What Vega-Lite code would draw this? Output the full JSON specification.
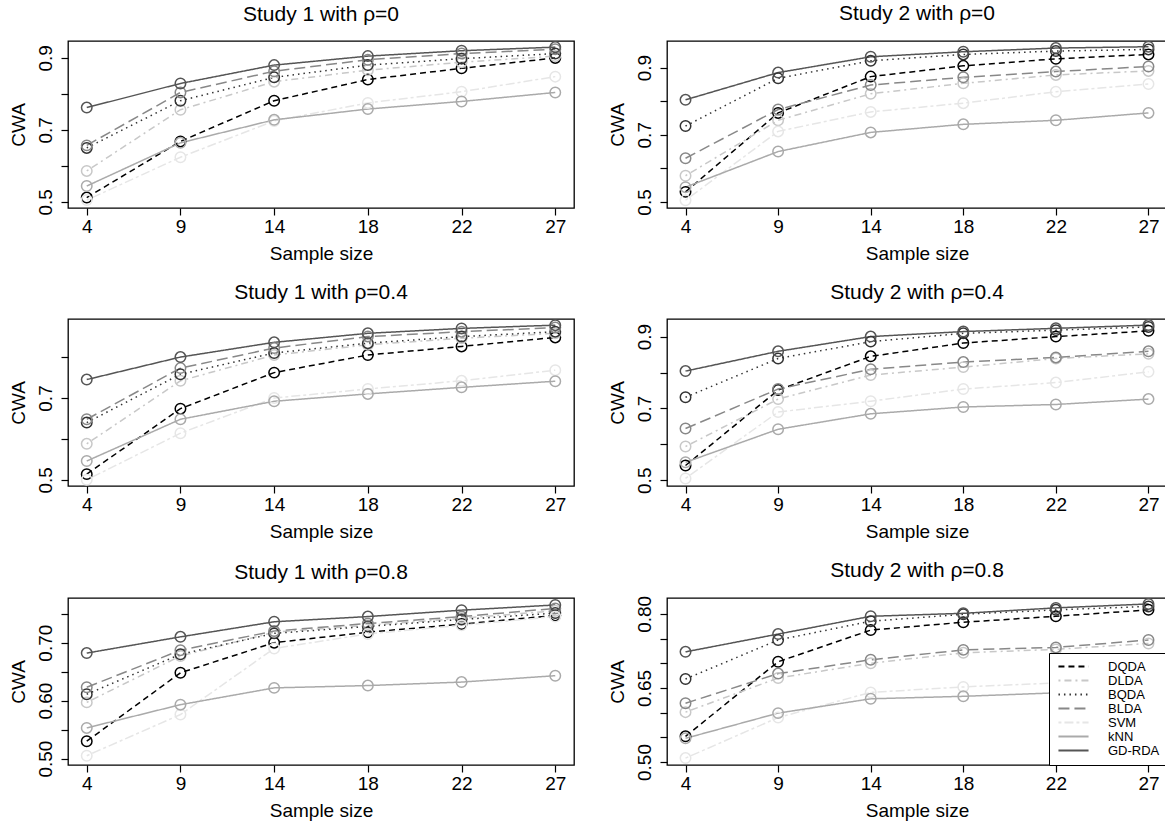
{
  "$schema": "https://vega.github.io/schema/vega-lite/v6.json",
  "background": "white",
  "padding": {"left": 8, "top": 2, "right": 0, "bottom": 0},
  "datasets": {
    "cwa": [
      {"panel": "s1r0", "method": "DQDA", "n": 4, "cwa": 0.512}, {"panel": "s1r0", "method": "DQDA", "n": 9, "cwa": 0.668}, {"panel": "s1r0", "method": "DQDA", "n": 14, "cwa": 0.781}, {"panel": "s1r0", "method": "DQDA", "n": 18, "cwa": 0.840}, {"panel": "s1r0", "method": "DQDA", "n": 22, "cwa": 0.871}, {"panel": "s1r0", "method": "DQDA", "n": 27, "cwa": 0.900},
      {"panel": "s1r0", "method": "DLDA", "n": 4, "cwa": 0.586}, {"panel": "s1r0", "method": "DLDA", "n": 9, "cwa": 0.756}, {"panel": "s1r0", "method": "DLDA", "n": 14, "cwa": 0.834}, {"panel": "s1r0", "method": "DLDA", "n": 18, "cwa": 0.866}, {"panel": "s1r0", "method": "DLDA", "n": 22, "cwa": 0.888}, {"panel": "s1r0", "method": "DLDA", "n": 27, "cwa": 0.905},
      {"panel": "s1r0", "method": "BQDA", "n": 4, "cwa": 0.650}, {"panel": "s1r0", "method": "BQDA", "n": 9, "cwa": 0.781}, {"panel": "s1r0", "method": "BQDA", "n": 14, "cwa": 0.846}, {"panel": "s1r0", "method": "BQDA", "n": 18, "cwa": 0.880}, {"panel": "s1r0", "method": "BQDA", "n": 22, "cwa": 0.898}, {"panel": "s1r0", "method": "BQDA", "n": 27, "cwa": 0.912},
      {"panel": "s1r0", "method": "BLDA", "n": 4, "cwa": 0.657}, {"panel": "s1r0", "method": "BLDA", "n": 9, "cwa": 0.804}, {"panel": "s1r0", "method": "BLDA", "n": 14, "cwa": 0.863}, {"panel": "s1r0", "method": "BLDA", "n": 18, "cwa": 0.895}, {"panel": "s1r0", "method": "BLDA", "n": 22, "cwa": 0.912}, {"panel": "s1r0", "method": "BLDA", "n": 27, "cwa": 0.924},
      {"panel": "s1r0", "method": "SVM", "n": 4, "cwa": 0.505}, {"panel": "s1r0", "method": "SVM", "n": 9, "cwa": 0.624}, {"panel": "s1r0", "method": "SVM", "n": 14, "cwa": 0.725}, {"panel": "s1r0", "method": "SVM", "n": 18, "cwa": 0.775}, {"panel": "s1r0", "method": "SVM", "n": 22, "cwa": 0.806}, {"panel": "s1r0", "method": "SVM", "n": 27, "cwa": 0.848},
      {"panel": "s1r0", "method": "kNN", "n": 4, "cwa": 0.544}, {"panel": "s1r0", "method": "kNN", "n": 9, "cwa": 0.664}, {"panel": "s1r0", "method": "kNN", "n": 14, "cwa": 0.728}, {"panel": "s1r0", "method": "kNN", "n": 18, "cwa": 0.758}, {"panel": "s1r0", "method": "kNN", "n": 22, "cwa": 0.779}, {"panel": "s1r0", "method": "kNN", "n": 27, "cwa": 0.804},
      {"panel": "s1r0", "method": "GD-RDA", "n": 4, "cwa": 0.762}, {"panel": "s1r0", "method": "GD-RDA", "n": 9, "cwa": 0.829}, {"panel": "s1r0", "method": "GD-RDA", "n": 14, "cwa": 0.880}, {"panel": "s1r0", "method": "GD-RDA", "n": 18, "cwa": 0.905}, {"panel": "s1r0", "method": "GD-RDA", "n": 22, "cwa": 0.920}, {"panel": "s1r0", "method": "GD-RDA", "n": 27, "cwa": 0.930},

      {"panel": "s2r0", "method": "DQDA", "n": 4, "cwa": 0.530}, {"panel": "s2r0", "method": "DQDA", "n": 9, "cwa": 0.765}, {"panel": "s2r0", "method": "DQDA", "n": 14, "cwa": 0.873}, {"panel": "s2r0", "method": "DQDA", "n": 18, "cwa": 0.905}, {"panel": "s2r0", "method": "DQDA", "n": 22, "cwa": 0.926}, {"panel": "s2r0", "method": "DQDA", "n": 27, "cwa": 0.939},
      {"panel": "s2r0", "method": "DLDA", "n": 4, "cwa": 0.578}, {"panel": "s2r0", "method": "DLDA", "n": 9, "cwa": 0.743}, {"panel": "s2r0", "method": "DLDA", "n": 14, "cwa": 0.822}, {"panel": "s2r0", "method": "DLDA", "n": 18, "cwa": 0.853}, {"panel": "s2r0", "method": "DLDA", "n": 22, "cwa": 0.878}, {"panel": "s2r0", "method": "DLDA", "n": 27, "cwa": 0.890},
      {"panel": "s2r0", "method": "BQDA", "n": 4, "cwa": 0.726}, {"panel": "s2r0", "method": "BQDA", "n": 9, "cwa": 0.868}, {"panel": "s2r0", "method": "BQDA", "n": 14, "cwa": 0.920}, {"panel": "s2r0", "method": "BQDA", "n": 18, "cwa": 0.939}, {"panel": "s2r0", "method": "BQDA", "n": 22, "cwa": 0.949}, {"panel": "s2r0", "method": "BQDA", "n": 27, "cwa": 0.954},
      {"panel": "s2r0", "method": "BLDA", "n": 4, "cwa": 0.630}, {"panel": "s2r0", "method": "BLDA", "n": 9, "cwa": 0.775}, {"panel": "s2r0", "method": "BLDA", "n": 14, "cwa": 0.848}, {"panel": "s2r0", "method": "BLDA", "n": 18, "cwa": 0.871}, {"panel": "s2r0", "method": "BLDA", "n": 22, "cwa": 0.888}, {"panel": "s2r0", "method": "BLDA", "n": 27, "cwa": 0.903},
      {"panel": "s2r0", "method": "SVM", "n": 4, "cwa": 0.505}, {"panel": "s2r0", "method": "SVM", "n": 9, "cwa": 0.710}, {"panel": "s2r0", "method": "SVM", "n": 14, "cwa": 0.768}, {"panel": "s2r0", "method": "SVM", "n": 18, "cwa": 0.794}, {"panel": "s2r0", "method": "SVM", "n": 22, "cwa": 0.828}, {"panel": "s2r0", "method": "SVM", "n": 27, "cwa": 0.851},
      {"panel": "s2r0", "method": "kNN", "n": 4, "cwa": 0.544}, {"panel": "s2r0", "method": "kNN", "n": 9, "cwa": 0.650}, {"panel": "s2r0", "method": "kNN", "n": 14, "cwa": 0.707}, {"panel": "s2r0", "method": "kNN", "n": 18, "cwa": 0.731}, {"panel": "s2r0", "method": "kNN", "n": 22, "cwa": 0.743}, {"panel": "s2r0", "method": "kNN", "n": 27, "cwa": 0.765},
      {"panel": "s2r0", "method": "GD-RDA", "n": 4, "cwa": 0.804}, {"panel": "s2r0", "method": "GD-RDA", "n": 9, "cwa": 0.885}, {"panel": "s2r0", "method": "GD-RDA", "n": 14, "cwa": 0.932}, {"panel": "s2r0", "method": "GD-RDA", "n": 18, "cwa": 0.947}, {"panel": "s2r0", "method": "GD-RDA", "n": 22, "cwa": 0.958}, {"panel": "s2r0", "method": "GD-RDA", "n": 27, "cwa": 0.962},

      {"panel": "s1r4", "method": "DQDA", "n": 4, "cwa": 0.514}, {"panel": "s1r4", "method": "DQDA", "n": 9, "cwa": 0.674}, {"panel": "s1r4", "method": "DQDA", "n": 14, "cwa": 0.762}, {"panel": "s1r4", "method": "DQDA", "n": 18, "cwa": 0.805}, {"panel": "s1r4", "method": "DQDA", "n": 22, "cwa": 0.826}, {"panel": "s1r4", "method": "DQDA", "n": 27, "cwa": 0.848},
      {"panel": "s1r4", "method": "DLDA", "n": 4, "cwa": 0.588}, {"panel": "s1r4", "method": "DLDA", "n": 9, "cwa": 0.742}, {"panel": "s1r4", "method": "DLDA", "n": 14, "cwa": 0.805}, {"panel": "s1r4", "method": "DLDA", "n": 18, "cwa": 0.830}, {"panel": "s1r4", "method": "DLDA", "n": 22, "cwa": 0.846}, {"panel": "s1r4", "method": "DLDA", "n": 27, "cwa": 0.858},
      {"panel": "s1r4", "method": "BQDA", "n": 4, "cwa": 0.640}, {"panel": "s1r4", "method": "BQDA", "n": 9, "cwa": 0.758}, {"panel": "s1r4", "method": "BQDA", "n": 14, "cwa": 0.810}, {"panel": "s1r4", "method": "BQDA", "n": 18, "cwa": 0.834}, {"panel": "s1r4", "method": "BQDA", "n": 22, "cwa": 0.850}, {"panel": "s1r4", "method": "BQDA", "n": 27, "cwa": 0.862},
      {"panel": "s1r4", "method": "BLDA", "n": 4, "cwa": 0.648}, {"panel": "s1r4", "method": "BLDA", "n": 9, "cwa": 0.773}, {"panel": "s1r4", "method": "BLDA", "n": 14, "cwa": 0.822}, {"panel": "s1r4", "method": "BLDA", "n": 18, "cwa": 0.850}, {"panel": "s1r4", "method": "BLDA", "n": 22, "cwa": 0.862}, {"panel": "s1r4", "method": "BLDA", "n": 27, "cwa": 0.872},
      {"panel": "s1r4", "method": "SVM", "n": 4, "cwa": 0.500}, {"panel": "s1r4", "method": "SVM", "n": 9, "cwa": 0.614}, {"panel": "s1r4", "method": "SVM", "n": 14, "cwa": 0.700}, {"panel": "s1r4", "method": "SVM", "n": 18, "cwa": 0.722}, {"panel": "s1r4", "method": "SVM", "n": 22, "cwa": 0.742}, {"panel": "s1r4", "method": "SVM", "n": 27, "cwa": 0.768},
      {"panel": "s1r4", "method": "kNN", "n": 4, "cwa": 0.546}, {"panel": "s1r4", "method": "kNN", "n": 9, "cwa": 0.648}, {"panel": "s1r4", "method": "kNN", "n": 14, "cwa": 0.692}, {"panel": "s1r4", "method": "kNN", "n": 18, "cwa": 0.710}, {"panel": "s1r4", "method": "kNN", "n": 22, "cwa": 0.726}, {"panel": "s1r4", "method": "kNN", "n": 27, "cwa": 0.741},
      {"panel": "s1r4", "method": "GD-RDA", "n": 4, "cwa": 0.745}, {"panel": "s1r4", "method": "GD-RDA", "n": 9, "cwa": 0.800}, {"panel": "s1r4", "method": "GD-RDA", "n": 14, "cwa": 0.836}, {"panel": "s1r4", "method": "GD-RDA", "n": 18, "cwa": 0.858}, {"panel": "s1r4", "method": "GD-RDA", "n": 22, "cwa": 0.870}, {"panel": "s1r4", "method": "GD-RDA", "n": 27, "cwa": 0.878},

      {"panel": "s2r4", "method": "DQDA", "n": 4, "cwa": 0.541}, {"panel": "s2r4", "method": "DQDA", "n": 9, "cwa": 0.751}, {"panel": "s2r4", "method": "DQDA", "n": 14, "cwa": 0.845}, {"panel": "s2r4", "method": "DQDA", "n": 18, "cwa": 0.882}, {"panel": "s2r4", "method": "DQDA", "n": 22, "cwa": 0.900}, {"panel": "s2r4", "method": "DQDA", "n": 27, "cwa": 0.916},
      {"panel": "s2r4", "method": "DLDA", "n": 4, "cwa": 0.594}, {"panel": "s2r4", "method": "DLDA", "n": 9, "cwa": 0.726}, {"panel": "s2r4", "method": "DLDA", "n": 14, "cwa": 0.793}, {"panel": "s2r4", "method": "DLDA", "n": 18, "cwa": 0.815}, {"panel": "s2r4", "method": "DLDA", "n": 22, "cwa": 0.839}, {"panel": "s2r4", "method": "DLDA", "n": 27, "cwa": 0.852},
      {"panel": "s2r4", "method": "BQDA", "n": 4, "cwa": 0.731}, {"panel": "s2r4", "method": "BQDA", "n": 9, "cwa": 0.839}, {"panel": "s2r4", "method": "BQDA", "n": 14, "cwa": 0.886}, {"panel": "s2r4", "method": "BQDA", "n": 18, "cwa": 0.909}, {"panel": "s2r4", "method": "BQDA", "n": 22, "cwa": 0.918}, {"panel": "s2r4", "method": "BQDA", "n": 27, "cwa": 0.927},
      {"panel": "s2r4", "method": "BLDA", "n": 4, "cwa": 0.644}, {"panel": "s2r4", "method": "BLDA", "n": 9, "cwa": 0.754}, {"panel": "s2r4", "method": "BLDA", "n": 14, "cwa": 0.809}, {"panel": "s2r4", "method": "BLDA", "n": 18, "cwa": 0.829}, {"panel": "s2r4", "method": "BLDA", "n": 22, "cwa": 0.842}, {"panel": "s2r4", "method": "BLDA", "n": 27, "cwa": 0.859},
      {"panel": "s2r4", "method": "SVM", "n": 4, "cwa": 0.505}, {"panel": "s2r4", "method": "SVM", "n": 9, "cwa": 0.690}, {"panel": "s2r4", "method": "SVM", "n": 14, "cwa": 0.720}, {"panel": "s2r4", "method": "SVM", "n": 18, "cwa": 0.754}, {"panel": "s2r4", "method": "SVM", "n": 22, "cwa": 0.772}, {"panel": "s2r4", "method": "SVM", "n": 27, "cwa": 0.802},
      {"panel": "s2r4", "method": "kNN", "n": 4, "cwa": 0.550}, {"panel": "s2r4", "method": "kNN", "n": 9, "cwa": 0.642}, {"panel": "s2r4", "method": "kNN", "n": 14, "cwa": 0.685}, {"panel": "s2r4", "method": "kNN", "n": 18, "cwa": 0.704}, {"panel": "s2r4", "method": "kNN", "n": 22, "cwa": 0.711}, {"panel": "s2r4", "method": "kNN", "n": 27, "cwa": 0.726},
      {"panel": "s2r4", "method": "GD-RDA", "n": 4, "cwa": 0.804}, {"panel": "s2r4", "method": "GD-RDA", "n": 9, "cwa": 0.859}, {"panel": "s2r4", "method": "GD-RDA", "n": 14, "cwa": 0.900}, {"panel": "s2r4", "method": "GD-RDA", "n": 18, "cwa": 0.914}, {"panel": "s2r4", "method": "GD-RDA", "n": 22, "cwa": 0.923}, {"panel": "s2r4", "method": "GD-RDA", "n": 27, "cwa": 0.932},

      {"panel": "s1r8", "method": "DQDA", "n": 4, "cwa": 0.530}, {"panel": "s1r8", "method": "DQDA", "n": 9, "cwa": 0.648}, {"panel": "s1r8", "method": "DQDA", "n": 14, "cwa": 0.700}, {"panel": "s1r8", "method": "DQDA", "n": 18, "cwa": 0.718}, {"panel": "s1r8", "method": "DQDA", "n": 22, "cwa": 0.732}, {"panel": "s1r8", "method": "DQDA", "n": 27, "cwa": 0.747},
      {"panel": "s1r8", "method": "DLDA", "n": 4, "cwa": 0.597}, {"panel": "s1r8", "method": "DLDA", "n": 9, "cwa": 0.677}, {"panel": "s1r8", "method": "DLDA", "n": 14, "cwa": 0.718}, {"panel": "s1r8", "method": "DLDA", "n": 18, "cwa": 0.730}, {"panel": "s1r8", "method": "DLDA", "n": 22, "cwa": 0.742}, {"panel": "s1r8", "method": "DLDA", "n": 27, "cwa": 0.755},
      {"panel": "s1r8", "method": "BQDA", "n": 4, "cwa": 0.611}, {"panel": "s1r8", "method": "BQDA", "n": 9, "cwa": 0.680}, {"panel": "s1r8", "method": "BQDA", "n": 14, "cwa": 0.716}, {"panel": "s1r8", "method": "BQDA", "n": 18, "cwa": 0.728}, {"panel": "s1r8", "method": "BQDA", "n": 22, "cwa": 0.740}, {"panel": "s1r8", "method": "BQDA", "n": 27, "cwa": 0.751},
      {"panel": "s1r8", "method": "BLDA", "n": 4, "cwa": 0.623}, {"panel": "s1r8", "method": "BLDA", "n": 9, "cwa": 0.687}, {"panel": "s1r8", "method": "BLDA", "n": 14, "cwa": 0.720}, {"panel": "s1r8", "method": "BLDA", "n": 18, "cwa": 0.733}, {"panel": "s1r8", "method": "BLDA", "n": 22, "cwa": 0.745}, {"panel": "s1r8", "method": "BLDA", "n": 27, "cwa": 0.759},
      {"panel": "s1r8", "method": "SVM", "n": 4, "cwa": 0.505}, {"panel": "s1r8", "method": "SVM", "n": 9, "cwa": 0.576}, {"panel": "s1r8", "method": "SVM", "n": 14, "cwa": 0.690}, {"panel": "s1r8", "method": "SVM", "n": 18, "cwa": 0.715}, {"panel": "s1r8", "method": "SVM", "n": 22, "cwa": 0.730}, {"panel": "s1r8", "method": "SVM", "n": 27, "cwa": 0.745},
      {"panel": "s1r8", "method": "kNN", "n": 4, "cwa": 0.553}, {"panel": "s1r8", "method": "kNN", "n": 9, "cwa": 0.593}, {"panel": "s1r8", "method": "kNN", "n": 14, "cwa": 0.622}, {"panel": "s1r8", "method": "kNN", "n": 18, "cwa": 0.626}, {"panel": "s1r8", "method": "kNN", "n": 22, "cwa": 0.632}, {"panel": "s1r8", "method": "kNN", "n": 27, "cwa": 0.643},
      {"panel": "s1r8", "method": "GD-RDA", "n": 4, "cwa": 0.682}, {"panel": "s1r8", "method": "GD-RDA", "n": 9, "cwa": 0.710}, {"panel": "s1r8", "method": "GD-RDA", "n": 14, "cwa": 0.736}, {"panel": "s1r8", "method": "GD-RDA", "n": 18, "cwa": 0.745}, {"panel": "s1r8", "method": "GD-RDA", "n": 22, "cwa": 0.756}, {"panel": "s1r8", "method": "GD-RDA", "n": 27, "cwa": 0.765},

      {"panel": "s2r8", "method": "DQDA", "n": 4, "cwa": 0.552}, {"panel": "s2r8", "method": "DQDA", "n": 9, "cwa": 0.703}, {"panel": "s2r8", "method": "DQDA", "n": 14, "cwa": 0.767}, {"panel": "s2r8", "method": "DQDA", "n": 18, "cwa": 0.783}, {"panel": "s2r8", "method": "DQDA", "n": 22, "cwa": 0.795}, {"panel": "s2r8", "method": "DQDA", "n": 27, "cwa": 0.808},
      {"panel": "s2r8", "method": "DLDA", "n": 4, "cwa": 0.601}, {"panel": "s2r8", "method": "DLDA", "n": 9, "cwa": 0.670}, {"panel": "s2r8", "method": "DLDA", "n": 14, "cwa": 0.700}, {"panel": "s2r8", "method": "DLDA", "n": 18, "cwa": 0.721}, {"panel": "s2r8", "method": "DLDA", "n": 22, "cwa": 0.728}, {"panel": "s2r8", "method": "DLDA", "n": 27, "cwa": 0.740},
      {"panel": "s2r8", "method": "BQDA", "n": 4, "cwa": 0.668}, {"panel": "s2r8", "method": "BQDA", "n": 9, "cwa": 0.747}, {"panel": "s2r8", "method": "BQDA", "n": 14, "cwa": 0.785}, {"panel": "s2r8", "method": "BQDA", "n": 18, "cwa": 0.799}, {"panel": "s2r8", "method": "BQDA", "n": 22, "cwa": 0.808}, {"panel": "s2r8", "method": "BQDA", "n": 27, "cwa": 0.815},
      {"panel": "s2r8", "method": "BLDA", "n": 4, "cwa": 0.619}, {"panel": "s2r8", "method": "BLDA", "n": 9, "cwa": 0.679}, {"panel": "s2r8", "method": "BLDA", "n": 14, "cwa": 0.707}, {"panel": "s2r8", "method": "BLDA", "n": 18, "cwa": 0.727}, {"panel": "s2r8", "method": "BLDA", "n": 22, "cwa": 0.732}, {"panel": "s2r8", "method": "BLDA", "n": 27, "cwa": 0.747},
      {"panel": "s2r8", "method": "SVM", "n": 4, "cwa": 0.508}, {"panel": "s2r8", "method": "SVM", "n": 9, "cwa": 0.590}, {"panel": "s2r8", "method": "SVM", "n": 14, "cwa": 0.641}, {"panel": "s2r8", "method": "SVM", "n": 18, "cwa": 0.652}, {"panel": "s2r8", "method": "SVM", "n": 22, "cwa": 0.660}, {"panel": "s2r8", "method": "SVM", "n": 27, "cwa": 0.667},
      {"panel": "s2r8", "method": "kNN", "n": 4, "cwa": 0.548}, {"panel": "s2r8", "method": "kNN", "n": 9, "cwa": 0.599}, {"panel": "s2r8", "method": "kNN", "n": 14, "cwa": 0.628}, {"panel": "s2r8", "method": "kNN", "n": 18, "cwa": 0.633}, {"panel": "s2r8", "method": "kNN", "n": 22, "cwa": 0.640}, {"panel": "s2r8", "method": "kNN", "n": 27, "cwa": 0.647},
      {"panel": "s2r8", "method": "GD-RDA", "n": 4, "cwa": 0.723}, {"panel": "s2r8", "method": "GD-RDA", "n": 9, "cwa": 0.759}, {"panel": "s2r8", "method": "GD-RDA", "n": 14, "cwa": 0.795}, {"panel": "s2r8", "method": "GD-RDA", "n": 18, "cwa": 0.801}, {"panel": "s2r8", "method": "GD-RDA", "n": 22, "cwa": 0.812}, {"panel": "s2r8", "method": "GD-RDA", "n": 27, "cwa": 0.820}
    ]
  },
  "columns": 2,
  "spacing": {"row": 17, "column": 32},
  "resolve": {
    "scale": {"x": "independent", "y": "independent"},
    "legend": {"stroke": "independent", "strokeDash": "independent"}
  },
  "concat": [
    {
      "title": "Study 1 with ρ=0",
      "width": 506, "height": 167,
      "data": {"name": "cwa"},
      "transform": [{"filter": "datum.panel == 's1r0'"}],
      "encoding": {
        "x": {"field": "n", "type": "ordinal", "title": "Sample size", "scale": {"type": "point", "domain": [4, 9, 14, 18, 22, 27], "padding": 0.2}, "axis": {"labelAngle": 0}},
        "y": {"field": "cwa", "type": "quantitative", "title": "CWA", "scale": {"domain": [0.483, 0.947], "nice": false, "zero": false}, "axis": {"values": [0.5, 0.6, 0.7, 0.8, 0.9], "labelExpr": "(datum.value == 0.6 || datum.value == 0.8) ? '' : format(datum.value, '.1f')"}}
      },
      "layer": [
        {"mark": {"type": "line", "strokeWidth": 1.5},
         "encoding": {
           "stroke": {"field": "method", "type": "nominal", "legend": null, "scale": {"domain": ["DQDA", "DLDA", "BQDA", "BLDA", "SVM", "kNN", "GD-RDA"], "range": ["#000000", "#c8c8c8", "#333333", "#888888", "#e6e6e6", "#aaaaaa", "#555555"]}},
           "strokeDash": {"field": "method", "type": "nominal", "legend": null, "scale": {"domain": ["DQDA", "DLDA", "BQDA", "BLDA", "SVM", "kNN", "GD-RDA"], "range": [[6, 4], [2, 4, 7, 4], [1.5, 4], [11, 5], [3, 3, 9, 3], [1, 0], [1, 0]]}}
         }},
        {"mark": {"type": "point", "filled": false, "size": 110, "strokeWidth": 1.5, "opacity": 1},
         "encoding": {
           "color": {"field": "method", "type": "nominal", "legend": null, "scale": {"domain": ["DQDA", "DLDA", "BQDA", "BLDA", "SVM", "kNN", "GD-RDA"], "range": ["#000000", "#c8c8c8", "#333333", "#888888", "#e6e6e6", "#aaaaaa", "#555555"]}}
         }}
      ]
    },
    {
      "title": "Study 2 with ρ=0",
      "width": 500, "height": 167,
      "data": {"name": "cwa"},
      "transform": [{"filter": "datum.panel == 's2r0'"}],
      "encoding": {
        "x": {"field": "n", "type": "ordinal", "title": "Sample size", "scale": {"type": "point", "domain": [4, 9, 14, 18, 22, 27], "padding": 0.2}, "axis": {"labelAngle": 0}},
        "y": {"field": "cwa", "type": "quantitative", "title": "CWA", "scale": {"domain": [0.482, 0.979], "nice": false, "zero": false}, "axis": {"values": [0.5, 0.6, 0.7, 0.8, 0.9], "labelExpr": "(datum.value == 0.6 || datum.value == 0.8) ? '' : format(datum.value, '.1f')"}}
      },
      "layer": [
        {"mark": {"type": "line", "strokeWidth": 1.5},
         "encoding": {
           "stroke": {"field": "method", "type": "nominal", "legend": null, "scale": {"domain": ["DQDA", "DLDA", "BQDA", "BLDA", "SVM", "kNN", "GD-RDA"], "range": ["#000000", "#c8c8c8", "#333333", "#888888", "#e6e6e6", "#aaaaaa", "#555555"]}},
           "strokeDash": {"field": "method", "type": "nominal", "legend": null, "scale": {"domain": ["DQDA", "DLDA", "BQDA", "BLDA", "SVM", "kNN", "GD-RDA"], "range": [[6, 4], [2, 4, 7, 4], [1.5, 4], [11, 5], [3, 3, 9, 3], [1, 0], [1, 0]]}}
         }},
        {"mark": {"type": "point", "filled": false, "size": 110, "strokeWidth": 1.5, "opacity": 1},
         "encoding": {
           "color": {"field": "method", "type": "nominal", "legend": null, "scale": {"domain": ["DQDA", "DLDA", "BQDA", "BLDA", "SVM", "kNN", "GD-RDA"], "range": ["#000000", "#c8c8c8", "#333333", "#888888", "#e6e6e6", "#aaaaaa", "#555555"]}}
         }}
      ]
    },
    {
      "title": "Study 1 with ρ=0.4",
      "width": 506, "height": 167,
      "data": {"name": "cwa"},
      "transform": [{"filter": "datum.panel == 's1r4'"}],
      "encoding": {
        "x": {"field": "n", "type": "ordinal", "title": "Sample size", "scale": {"type": "point", "domain": [4, 9, 14, 18, 22, 27], "padding": 0.2}, "axis": {"labelAngle": 0}},
        "y": {"field": "cwa", "type": "quantitative", "title": "CWA", "scale": {"domain": [0.485, 0.893], "nice": false, "zero": false}, "axis": {"values": [0.5, 0.6, 0.7, 0.8], "labelExpr": "(datum.value == 0.6 || datum.value == 0.8) ? '' : format(datum.value, '.1f')"}}
      },
      "layer": [
        {"mark": {"type": "line", "strokeWidth": 1.5},
         "encoding": {
           "stroke": {"field": "method", "type": "nominal", "legend": null, "scale": {"domain": ["DQDA", "DLDA", "BQDA", "BLDA", "SVM", "kNN", "GD-RDA"], "range": ["#000000", "#c8c8c8", "#333333", "#888888", "#e6e6e6", "#aaaaaa", "#555555"]}},
           "strokeDash": {"field": "method", "type": "nominal", "legend": null, "scale": {"domain": ["DQDA", "DLDA", "BQDA", "BLDA", "SVM", "kNN", "GD-RDA"], "range": [[6, 4], [2, 4, 7, 4], [1.5, 4], [11, 5], [3, 3, 9, 3], [1, 0], [1, 0]]}}
         }},
        {"mark": {"type": "point", "filled": false, "size": 110, "strokeWidth": 1.5, "opacity": 1},
         "encoding": {
           "color": {"field": "method", "type": "nominal", "legend": null, "scale": {"domain": ["DQDA", "DLDA", "BQDA", "BLDA", "SVM", "kNN", "GD-RDA"], "range": ["#000000", "#c8c8c8", "#333333", "#888888", "#e6e6e6", "#aaaaaa", "#555555"]}}
         }}
      ]
    },
    {
      "title": "Study 2 with ρ=0.4",
      "width": 500, "height": 167,
      "data": {"name": "cwa"},
      "transform": [{"filter": "datum.panel == 's2r4'"}],
      "encoding": {
        "x": {"field": "n", "type": "ordinal", "title": "Sample size", "scale": {"type": "point", "domain": [4, 9, 14, 18, 22, 27], "padding": 0.2}, "axis": {"labelAngle": 0}},
        "y": {"field": "cwa", "type": "quantitative", "title": "CWA", "scale": {"domain": [0.484, 0.949], "nice": false, "zero": false}, "axis": {"values": [0.5, 0.6, 0.7, 0.8, 0.9], "labelExpr": "(datum.value == 0.6 || datum.value == 0.8) ? '' : format(datum.value, '.1f')"}}
      },
      "layer": [
        {"mark": {"type": "line", "strokeWidth": 1.5},
         "encoding": {
           "stroke": {"field": "method", "type": "nominal", "legend": null, "scale": {"domain": ["DQDA", "DLDA", "BQDA", "BLDA", "SVM", "kNN", "GD-RDA"], "range": ["#000000", "#c8c8c8", "#333333", "#888888", "#e6e6e6", "#aaaaaa", "#555555"]}},
           "strokeDash": {"field": "method", "type": "nominal", "legend": null, "scale": {"domain": ["DQDA", "DLDA", "BQDA", "BLDA", "SVM", "kNN", "GD-RDA"], "range": [[6, 4], [2, 4, 7, 4], [1.5, 4], [11, 5], [3, 3, 9, 3], [1, 0], [1, 0]]}}
         }},
        {"mark": {"type": "point", "filled": false, "size": 110, "strokeWidth": 1.5, "opacity": 1},
         "encoding": {
           "color": {"field": "method", "type": "nominal", "legend": null, "scale": {"domain": ["DQDA", "DLDA", "BQDA", "BLDA", "SVM", "kNN", "GD-RDA"], "range": ["#000000", "#c8c8c8", "#333333", "#888888", "#e6e6e6", "#aaaaaa", "#555555"]}}
         }}
      ]
    },
    {
      "title": "Study 1 with ρ=0.8",
      "width": 506, "height": 167,
      "data": {"name": "cwa"},
      "transform": [{"filter": "datum.panel == 's1r8'"}],
      "encoding": {
        "x": {"field": "n", "type": "ordinal", "title": "Sample size", "scale": {"type": "point", "domain": [4, 9, 14, 18, 22, 27], "padding": 0.2}, "axis": {"labelAngle": 0}},
        "y": {"field": "cwa", "type": "quantitative", "title": "CWA", "scale": {"domain": [0.489, 0.777], "nice": false, "zero": false}, "axis": {"values": [0.5, 0.55, 0.6, 0.65, 0.7, 0.75], "labelExpr": "indexof(['0.50', '0.60', '0.70'], format(datum.value, '.2f')) >= 0 ? format(datum.value, '.2f') : ''"}}
      },
      "layer": [
        {"mark": {"type": "line", "strokeWidth": 1.5},
         "encoding": {
           "stroke": {"field": "method", "type": "nominal", "legend": null, "scale": {"domain": ["DQDA", "DLDA", "BQDA", "BLDA", "SVM", "kNN", "GD-RDA"], "range": ["#000000", "#c8c8c8", "#333333", "#888888", "#e6e6e6", "#aaaaaa", "#555555"]}},
           "strokeDash": {"field": "method", "type": "nominal", "legend": null, "scale": {"domain": ["DQDA", "DLDA", "BQDA", "BLDA", "SVM", "kNN", "GD-RDA"], "range": [[6, 4], [2, 4, 7, 4], [1.5, 4], [11, 5], [3, 3, 9, 3], [1, 0], [1, 0]]}}
         }},
        {"mark": {"type": "point", "filled": false, "size": 110, "strokeWidth": 1.5, "opacity": 1},
         "encoding": {
           "color": {"field": "method", "type": "nominal", "legend": null, "scale": {"domain": ["DQDA", "DLDA", "BQDA", "BLDA", "SVM", "kNN", "GD-RDA"], "range": ["#000000", "#c8c8c8", "#333333", "#888888", "#e6e6e6", "#aaaaaa", "#555555"]}}
         }}
      ]
    },
    {
      "title": "Study 2 with ρ=0.8",
      "width": 500, "height": 167,
      "data": {"name": "cwa"},
      "transform": [{"filter": "datum.panel == 's2r8'"}],
      "encoding": {
        "x": {"field": "n", "type": "ordinal", "title": "Sample size", "scale": {"type": "point", "domain": [4, 9, 14, 18, 22, 27], "padding": 0.2}, "axis": {"labelAngle": 0}},
        "y": {"field": "cwa", "type": "quantitative", "title": "CWA", "scale": {"domain": [0.494, 0.832], "nice": false, "zero": false}, "axis": {"values": [0.5, 0.55, 0.6, 0.65, 0.7, 0.75, 0.8], "labelExpr": "indexof(['0.50', '0.65', '0.80'], format(datum.value, '.2f')) >= 0 ? format(datum.value, '.2f') : ''"}}
      },
      "layer": [
        {"mark": {"type": "line", "strokeWidth": 1.5},
         "encoding": {
           "stroke": {"field": "method", "type": "nominal", "scale": {"domain": ["DQDA", "DLDA", "BQDA", "BLDA", "SVM", "kNN", "GD-RDA"], "range": ["#000000", "#c8c8c8", "#333333", "#888888", "#e6e6e6", "#aaaaaa", "#555555"]},
             "legend": {"title": null, "orient": "bottom-right", "offset": 0, "padding": 7, "strokeColor": "#000000", "fillColor": "#ffffff", "symbolType": "M-4.3,0H4.3", "symbolSize": 49, "symbolStrokeWidth": 2, "symbolOffset": 11, "labelFont": "Liberation Sans", "labelFontSize": 13, "labelColor": "#000000", "rowPadding": 0, "labelOffset": 28}},
           "strokeDash": {"field": "method", "type": "nominal", "scale": {"domain": ["DQDA", "DLDA", "BQDA", "BLDA", "SVM", "kNN", "GD-RDA"], "range": [[6, 4], [2, 4, 7, 4], [1.5, 4], [11, 5], [3, 3, 9, 3], [1, 0], [1, 0]]},
             "legend": {"title": null, "orient": "bottom-right", "offset": 0, "padding": 7, "strokeColor": "#000000", "fillColor": "#ffffff", "symbolType": "M-4.3,0H4.3", "symbolSize": 49, "symbolStrokeWidth": 2, "symbolOffset": 11, "labelFont": "Liberation Sans", "labelFontSize": 13, "labelColor": "#000000", "rowPadding": 0, "labelOffset": 28}}
         }},
        {"mark": {"type": "point", "filled": false, "size": 110, "strokeWidth": 1.5, "opacity": 1},
         "encoding": {
           "color": {"field": "method", "type": "nominal", "legend": null, "scale": {"domain": ["DQDA", "DLDA", "BQDA", "BLDA", "SVM", "kNN", "GD-RDA"], "range": ["#000000", "#c8c8c8", "#333333", "#888888", "#e6e6e6", "#aaaaaa", "#555555"]}}
         }}
      ]
    }
  ],
  "config": {
    "font": "Liberation Sans",
    "view": {"stroke": "#000000", "strokeWidth": 1.3},
    "title": {"fontSize": 21, "fontWeight": "normal", "font": "Liberation Sans", "color": "#000000", "offset": 14},
    "axis": {
      "grid": false, "domain": false,
      "tickColor": "#000000", "tickSize": 7, "tickWidth": 1.2,
      "labelFont": "Liberation Sans", "labelFontSize": 19, "labelColor": "#000000",
      "titleFont": "Liberation Sans", "titleFontSize": 19, "titleFontWeight": "normal", "titleColor": "#000000"
    },
    "axisX": {"labelPadding": 2, "titlePadding": 8},
    "axisY": {"labelAngle": -90, "labelAlign": "center", "labelBaseline": "bottom", "labelPadding": 6, "titlePadding": 8}
  }
}
